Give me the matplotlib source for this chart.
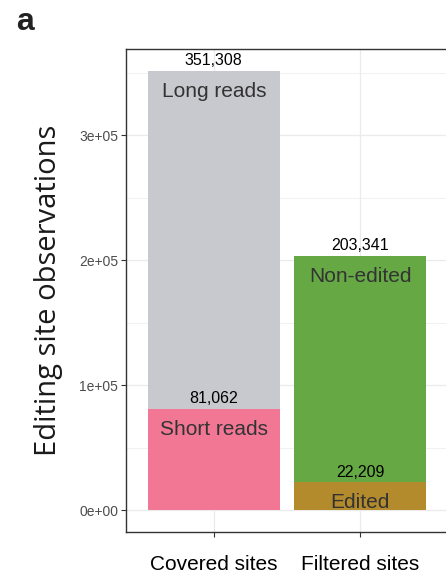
import matplotlib
matplotlib.use("Agg")
import matplotlib.pyplot as plt
from matplotlib.ticker import MultipleLocator, FixedLocator

# stacked counts per bar
categories = ["Covered sites", "Filtered sites"]
bottom_labels = ["Short reads", "Edited"]
top_labels = ["Long reads", "Non-edited"]
bottom_values = [81062, 22209]
total_values = [351308, 203341]
bottom_colors = ["#F27795", "#B38A2C"]
top_colors = ["#C8C8CF", "#65A844"]
yticks = [0, 100000, 200000, 300000]
ytick_labels = ["0e+00", "1e+05", "2e+05", "3e+05"]

plt.rcParams["font.family"] = ["Liberation Sans", "DejaVu Sans"]

fig = plt.figure(figsize=(4.46, 5.73), dpi=100)
ax = fig.add_axes([126 / 446, 41 / 573, 322 / 446, 483 / 573])

x = range(len(categories))
top_parts = [t - b for t, b in zip(total_values, bottom_values)]
ax.bar(x, bottom_values, width=0.9, color=bottom_colors, zorder=2)
ax.bar(x, top_parts, width=0.9, bottom=bottom_values, color=top_colors, zorder=2)

for i in x:
    for val, name in [(total_values[i], top_labels[i]), (bottom_values[i], bottom_labels[i])]:
        ax.annotate(f"{val:,}", (i, val), xytext=(0, 2), textcoords="offset points",
                    ha="center", va="bottom", fontsize=11.5, color="black", zorder=3)
        ax.annotate(name, (i, val), xytext=(0, -8), textcoords="offset points",
                    ha="center", va="top", fontsize=15, color="#333333", zorder=3)

ymax = max(total_values)
ax.set_ylim(-0.05 * ymax, 1.05 * ymax)
ax.set_xlim(-0.6, len(categories) - 0.4)

ax.yaxis.set_major_locator(FixedLocator(yticks))
ax.set_yticklabels(ytick_labels)
ax.yaxis.set_minor_locator(MultipleLocator(50000))
ax.set_xticks(list(x))
ax.set_xticklabels(categories)

ax.grid(which="major", color="#EBEBEB", linewidth=0.9, zorder=0)
ax.grid(which="minor", axis="y", color="#EBEBEB", linewidth=0.5, zorder=0)
ax.set_axisbelow(True)

ax.tick_params(axis="y", which="major", direction="out", length=3.5, width=0.8,
               color="#333333", labelsize=10, labelcolor="#4D4D4D", pad=2)
ax.tick_params(axis="x", which="major", direction="out", length=3.5, width=0.8,
               color="#333333", labelsize=15, labelcolor="black", pad=13)
ax.tick_params(which="minor", length=0)

for s in ax.spines.values():
    s.set_color("#333333")
    s.set_linewidth(1.0)

ax.set_ylabel("Editing site observations", fontsize=21, family=["Open Sans", "DejaVu Sans"],
              labelpad=12, color="#1A1A1A")

fig.text(16 / 446, 1 - 22 / 573, "a", fontsize=23, fontweight="bold", va="center", ha="left",
         color="#222222")

fig.savefig("out.png", dpi=100)
